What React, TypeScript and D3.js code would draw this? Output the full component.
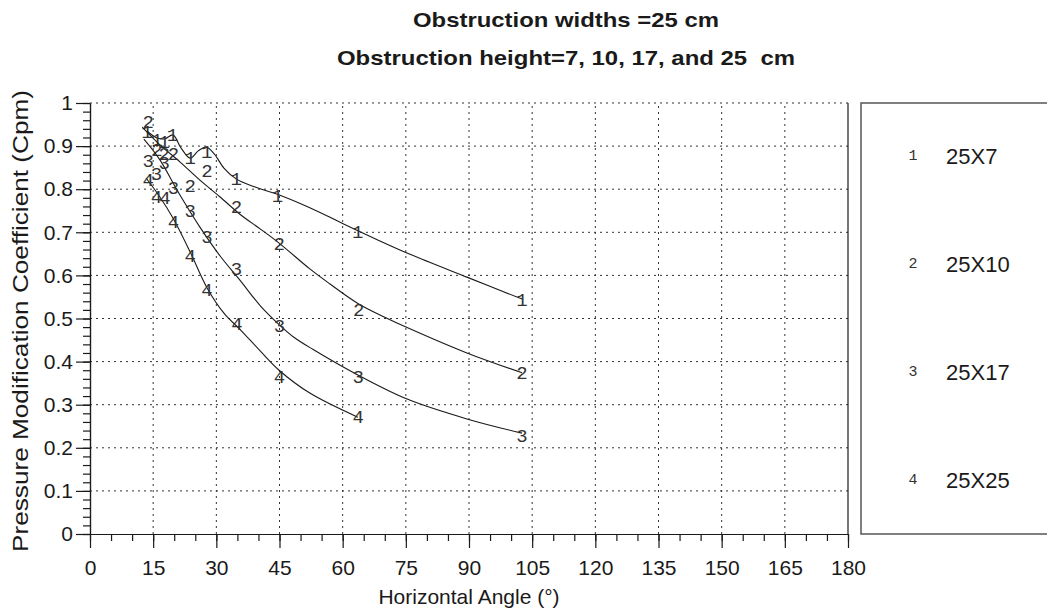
import * as d3 from 'd3';
import { useRef, useEffect } from 'react';

// Ejes
const xTicks = [0, 15, 30, 45, 60, 75, 90, 105, 120, 135, 150, 165, 180];
const yTicks = [0, 0.1, 0.2, 0.3, 0.4, 0.5, 0.6, 0.7, 0.8, 0.9, 1];

// Series (leyenda)
const seriesNames = ['25X7', '25X10', '25X17', '25X25'];
const seriesSymbols = ['1', '2', '3', '4'];

// 25X7
const s1MarkAngle = [13.5, 15.9, 17.6, 19.6, 23.8, 27.7, 34.7, 44.5, 63.6, 102.6];
const s1MarkCpm = [0.93, 0.912, 0.907, 0.923, 0.87, 0.885, 0.821, 0.782, 0.698, 0.541];
const s1CurveAngle = [13.5, 15.9, 17.8, 19.7, 21.6, 23.8, 25.7, 27.6, 29.5, 31.8, 34.7, 39.2, 45.1, 52.2, 60.1, 68.2, 76.0, 89.5, 102.6];
const s1CurveCpm = [0.935, 0.919, 0.917, 0.926, 0.896, 0.872, 0.889, 0.898, 0.882, 0.849, 0.824, 0.805, 0.786, 0.757, 0.72, 0.683, 0.649, 0.596, 0.545];

// 25X10
const s2MarkAngle = [13.8, 15.9, 17.6, 19.8, 23.8, 27.8, 34.8, 44.9, 63.8, 102.6];
const s2MarkCpm = [0.953, 0.889, 0.879, 0.879, 0.805, 0.84, 0.756, 0.671, 0.517, 0.371];
const s2CurveAngle = [12.4, 16.6, 21.4, 26.1, 30.9, 35.6, 40.4, 44.9, 52.2, 57.0, 63.6, 70.0, 75.3, 89.5, 102.6];
const s2CurveCpm = [0.944, 0.903, 0.863, 0.821, 0.782, 0.742, 0.708, 0.675, 0.615, 0.58, 0.535, 0.503, 0.479, 0.42, 0.374];

// 25X17
const s3MarkAngle = [13.8, 15.8, 17.6, 19.8, 23.8, 27.8, 34.8, 45.0, 63.7, 102.6];
const s3MarkCpm = [0.864, 0.833, 0.858, 0.8, 0.748, 0.687, 0.613, 0.481, 0.361, 0.225];
const s3CurveAngle = [12.8, 16.6, 20.9, 26.1, 30.9, 35.6, 40.4, 44.9, 48.5, 53.0, 63.6, 75.3, 89.5, 102.6];
const s3CurveCpm = [0.916, 0.868, 0.794, 0.712, 0.645, 0.589, 0.53, 0.486, 0.456, 0.428, 0.369, 0.313, 0.267, 0.234];

// 25X25
const s4MarkAngle = [13.8, 15.8, 17.8, 19.8, 23.8, 27.8, 34.9, 45.0, 63.7];
const s4MarkCpm = [0.819, 0.78, 0.777, 0.722, 0.642, 0.564, 0.485, 0.361, 0.268];
const s4CurveAngle = [13.3, 16.6, 19.7, 23.8, 27.8, 32.0, 35.6, 40.4, 44.9, 52.2, 63.6];
const s4CurveCpm = [0.826, 0.782, 0.733, 0.654, 0.571, 0.51, 0.475, 0.425, 0.38, 0.327, 0.271];

const series = [
  { markX: s1MarkAngle, markY: s1MarkCpm, curveX: s1CurveAngle, curveY: s1CurveCpm },
  { markX: s2MarkAngle, markY: s2MarkCpm, curveX: s2CurveAngle, curveY: s2CurveCpm },
  { markX: s3MarkAngle, markY: s3MarkCpm, curveX: s3CurveAngle, curveY: s3CurveCpm },
  { markX: s4MarkAngle, markY: s4MarkCpm, curveX: s4CurveAngle, curveY: s4CurveCpm },
];

const SANS = '"Liberation Sans", Arial, sans-serif';
const MONO = '"Liberation Mono", "Courier New", monospace';
const INK = '#1a1a1a';

const PressureChart = () => {
  const svgRef = useRef<SVGSVGElement | null>(null);

  useEffect(() => {
    const width = 1047;
    const height = 613;
    const plot = { left: 90, right: 848, top: 103, bottom: 534 };

    const xScale = d3.scaleLinear().domain([0, 180]).range([plot.left, plot.right]);
    const yScale = d3.scaleLinear().domain([0, 1]).range([plot.bottom, plot.top]);

    d3.select(svgRef.current).selectAll('*').remove();
    const svg = d3.select(svgRef.current).attr('width', width).attr('height', height);

    svg.append('rect').attr('width', width).attr('height', height).attr('fill', '#fff');

    // Titulos
    svg
      .append('text')
      .attr('x', 566)
      .attr('y', 27)
      .attr('text-anchor', 'middle')
      .attr('font-family', SANS)
      .attr('font-weight', 'bold')
      .attr('font-size', '21px')
      .attr('textLength', 306)
      .attr('lengthAdjust', 'spacingAndGlyphs')
      .attr('fill', INK)
      .text('Obstruction widths =25 cm');

    svg
      .append('text')
      .attr('x', 566)
      .attr('y', 65)
      .attr('text-anchor', 'middle')
      .attr('font-family', SANS)
      .attr('font-weight', 'bold')
      .attr('font-size', '21px')
      .attr('textLength', 458)
      .attr('lengthAdjust', 'spacingAndGlyphs')
      .attr('fill', INK)
      .attr('xml:space', 'preserve')
      .text('Obstruction height=7, 10, 17, and 25  cm');

    // Rejilla punteada
    const grid = svg.append('g').attr('stroke', '#333').attr('stroke-width', 1).attr('stroke-dasharray', '2,4');
    xTicks
      .filter((v) => v > 0 && v < 180)
      .forEach((v) => {
        grid
          .append('line')
          .attr('x1', xScale(v))
          .attr('x2', xScale(v))
          .attr('y1', yScale(0))
          .attr('y2', yScale(1));
      });
    yTicks
      .filter((v) => v > 0)
      .forEach((v) => {
        grid
          .append('line')
          .attr('x1', xScale(0))
          .attr('x2', xScale(180))
          .attr('y1', yScale(v))
          .attr('y2', yScale(v));
      });

    // Borde derecho
    svg
      .append('line')
      .attr('x1', xScale(180))
      .attr('x2', xScale(180))
      .attr('y1', yScale(1))
      .attr('y2', yScale(0))
      .attr('stroke', INK)
      .attr('stroke-width', 1.2);

    // Eje X
    const xMinor = svg.append('g').attr('transform', `translate(0,${plot.bottom})`);
    xMinor.call(
      d3
        .axisBottom(xScale)
        .tickValues(d3.range(0, 181, 5))
        .tickSize(7)
        .tickSizeOuter(0)
        .tickFormat(() => ''),
    );
    const xAxis = svg.append('g').attr('transform', `translate(0,${plot.bottom})`);
    xAxis.call(
      d3
        .axisBottom(xScale)
        .tickValues(xTicks)
        .tickSize(14)
        .tickSizeOuter(0)
        .tickPadding(12)
        .tickFormat((d) => String(d)),
    );

    // Eje Y
    const yMinor = svg.append('g').attr('transform', `translate(${plot.left},0)`);
    yMinor.call(
      d3
        .axisLeft(yScale)
        .tickValues(d3.range(0, 50.5).map((i) => i * 0.02))
        .tickSize(7)
        .tickSizeOuter(0)
        .tickFormat(() => ''),
    );
    const yAxis = svg.append('g').attr('transform', `translate(${plot.left},0)`);
    yAxis.call(
      d3
        .axisLeft(yScale)
        .tickValues(yTicks)
        .tickSize(14)
        .tickSizeOuter(0)
        .tickPadding(3)
        .tickFormat((d) => {
          const v = Number(d);
          return v === 0 || v === 1 ? String(v) : v.toFixed(1);
        }),
    );

    [xMinor, xAxis, yMinor, yAxis].forEach((g) => {
      g.selectAll('path').attr('stroke', INK).attr('stroke-width', 1.2);
      g.selectAll('line').attr('stroke', INK).attr('stroke-width', 1.2);
      g.selectAll('text')
        .attr('font-family', SANS)
        .attr('font-size', '21px')
        .attr('fill', INK);
    });

    // Titulos de ejes
    svg
      .append('text')
      .attr('x', (plot.left + plot.right) / 2)
      .attr('y', 604)
      .attr('text-anchor', 'middle')
      .attr('font-family', SANS)
      .attr('font-size', '21px')
      .attr('fill', INK)
      .text('Horizontal Angle (°)');

    svg
      .append('text')
      .attr('transform', 'translate(28,321) rotate(-90)')
      .attr('text-anchor', 'middle')
      .attr('font-family', SANS)
      .attr('font-size', '22px')
      .attr('textLength', 462)
      .attr('lengthAdjust', 'spacingAndGlyphs')
      .attr('fill', INK)
      .text('Pressure Modification Coefficient (Cpm)');

    // Curvas y marcadores
    const line = d3
      .line<[number, number]>()
      .x((d) => xScale(d[0]))
      .y((d) => yScale(d[1]))
      .curve(d3.curveCatmullRom.alpha(0.5));

    series.forEach((s, i) => {
      const pts = s.curveX.map((a, k) => [a, s.curveY[k]] as [number, number]);
      svg
        .append('path')
        .attr('d', line(pts))
        .attr('fill', 'none')
        .attr('stroke', INK)
        .attr('stroke-width', 1.1);

      s.markX.forEach((a, k) => {
        svg
          .append('text')
          .attr('x', xScale(a))
          .attr('y', yScale(s.markY[k]))
          .attr('text-anchor', 'middle')
          .attr('dominant-baseline', 'central')
          .attr('font-family', MONO)
          .attr('font-size', '19px')
          .attr('fill', '#333')
          .text(seriesSymbols[i]);
      });
    });

    // Leyenda
    const legendTop = plot.top;
    const legendH = plot.bottom - plot.top;
    const legendY = d3.scaleBand<number>().domain(d3.range(seriesNames.length)).range([legendTop, legendTop + legendH]);

    svg
      .append('rect')
      .attr('x', 861)
      .attr('y', legendTop)
      .attr('width', 200)
      .attr('height', legendH)
      .attr('fill', '#fff')
      .attr('stroke', '#555')
      .attr('stroke-width', 1.5);

    seriesNames.forEach((name, i) => {
      const cy = (legendY(i) ?? 0) + legendY.bandwidth() / 2;
      svg
        .append('text')
        .attr('x', 913)
        .attr('y', cy)
        .attr('text-anchor', 'middle')
        .attr('dominant-baseline', 'central')
        .attr('font-family', MONO)
        .attr('font-size', '15px')
        .attr('fill', '#333')
        .text(seriesSymbols[i]);
      svg
        .append('text')
        .attr('x', 946)
        .attr('y', cy)
        .attr('dominant-baseline', 'central')
        .attr('font-family', SANS)
        .attr('font-size', '22px')
        .attr('fill', INK)
        .text(name);
    });
  }, []);

  return <svg ref={svgRef} style={{ position: 'absolute', left: 0, top: 0 }} />;
};

export default function App() {
  return <PressureChart />;
}
